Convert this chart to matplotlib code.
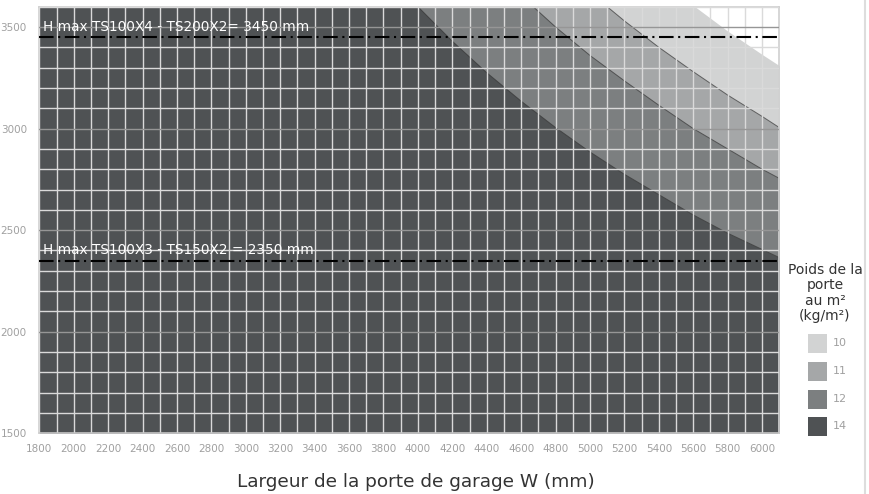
import matplotlib.pyplot as plt
from matplotlib.patches import Rectangle
from matplotlib.lines import Line2D
from matplotlib.ticker import MultipleLocator

plt.rcParams['font.family'] = ['DejaVu Sans']

# weight classes (kg/m2) and their limit curves (width W mm -> max height H mm)
classes = ['10', '11', '12', '14']
colors = ['#d2d3d3', '#a5a7a8', '#7c7f80', '#4f5254']

W10 = [5610, 5800, 6000, 6100]
H10 = [3600, 3480, 3365, 3310]
W11 = [5100, 5200, 5400, 5600, 5800, 6000, 6100]
H11 = [3600, 3530, 3400, 3280, 3165, 3060, 3005]
W12 = [4670, 4800, 5000, 5200, 5400, 5600, 5800, 6000, 6100]
H12 = [3600, 3500, 3360, 3235, 3115, 3000, 2900, 2800, 2755]
W14 = [4000, 4200, 4400, 4600, 4800, 5000, 5200, 5400, 5600, 5800, 6000, 6100]
H14 = [3600, 3430, 3275, 3135, 3005, 2885, 2775, 2675, 2575, 2485, 2405, 2365]

hmax_values = [3450, 2350]
hmax_labels = ['H max TS100X4 - TS200X2= 3450 mm', 'H max TS100X3 - TS150X2 = 2350 mm']

x_ticks = list(range(1800, 6001, 200))
y_ticks = [1500, 2000, 2500, 3000, 3500]

fig = plt.figure(figsize=(8.7, 4.94), dpi=100)
ax = fig.add_axes([39.3 / 870, 1 - 433.3 / 494, 740 / 870, 426.6 / 494])

curves = [(W10, H10), (W11, H11), (W12, H12), (W14, H14)]
for (W, H), col in zip(curves, colors):
    xs = [1800] + W
    ys = [3600] + H
    ax.fill_between(xs, 1500, ys, color=col, lw=0, zorder=1)
for W, H in curves[1:]:
    ax.plot(W, H, color='#333333', lw=0.7, alpha=0.7, zorder=1.5)

ax.set_xlim(1800, 6100)
ax.set_ylim(1500, 3600)
ax.set_xticks(x_ticks)
ax.set_yticks(y_ticks)
ax.xaxis.set_minor_locator(MultipleLocator(100))
ax.yaxis.set_minor_locator(MultipleLocator(100))
ax.grid(which='minor', color='#dadada', lw=1.0, zorder=2)
ax.grid(which='major', axis='x', color='#dadada', lw=1.0)
ax.grid(which='major', axis='y', color='#969696', lw=1.0)
ax.set_axisbelow(False)
ax.tick_params(which='both', length=0, colors='#a0a0a0', labelsize=7.5)
ax.tick_params(axis='x', pad=8)
ax.tick_params(axis='y', pad=9)
for sp in ax.spines.values():
    sp.set_color('#cfcfcf')
    sp.set_linewidth(1.2)

for h, lab in zip(hmax_values, hmax_labels):
    ax.axhline(h, color='black', lw=1.5, linestyle=(0, (7, 2.2, 1, 2.2)), zorder=3)
    ax.text(1820, h + 18, lab, color='white', fontsize=9.8, va='bottom', ha='left', zorder=4)

fig.text(416 / 870, 1 - 482 / 494, 'Largeur de la porte de garage W (mm)',
         ha='center', va='center', fontsize=13.3, color='#333333')

# legend drawn by hand at the right
fig.text(825 / 870, 1 - 293 / 494, 'Poids de la\nporte\nau m²\n(kg/m²)', ha='center', va='center',
         fontsize=10, color='#333333', linespacing=1.1)
leg_y = [343, 371, 399, 426]
for cls, col, yc in zip(classes, colors, leg_y):
    fig.add_artist(Rectangle((808 / 870, 1 - (yc + 9.5) / 494), 19 / 870, 19 / 494,
                             transform=fig.transFigure, color=col, lw=0))
    fig.text(833 / 870, 1 - yc / 494, cls, ha='left', va='center', fontsize=8, color='#a0a0a0')

fig.add_artist(Line2D([865 / 870, 865 / 870], [0, 1], transform=fig.transFigure,
                      color='#dddddd', lw=1.5))

fig.savefig('out.png', dpi=100)
